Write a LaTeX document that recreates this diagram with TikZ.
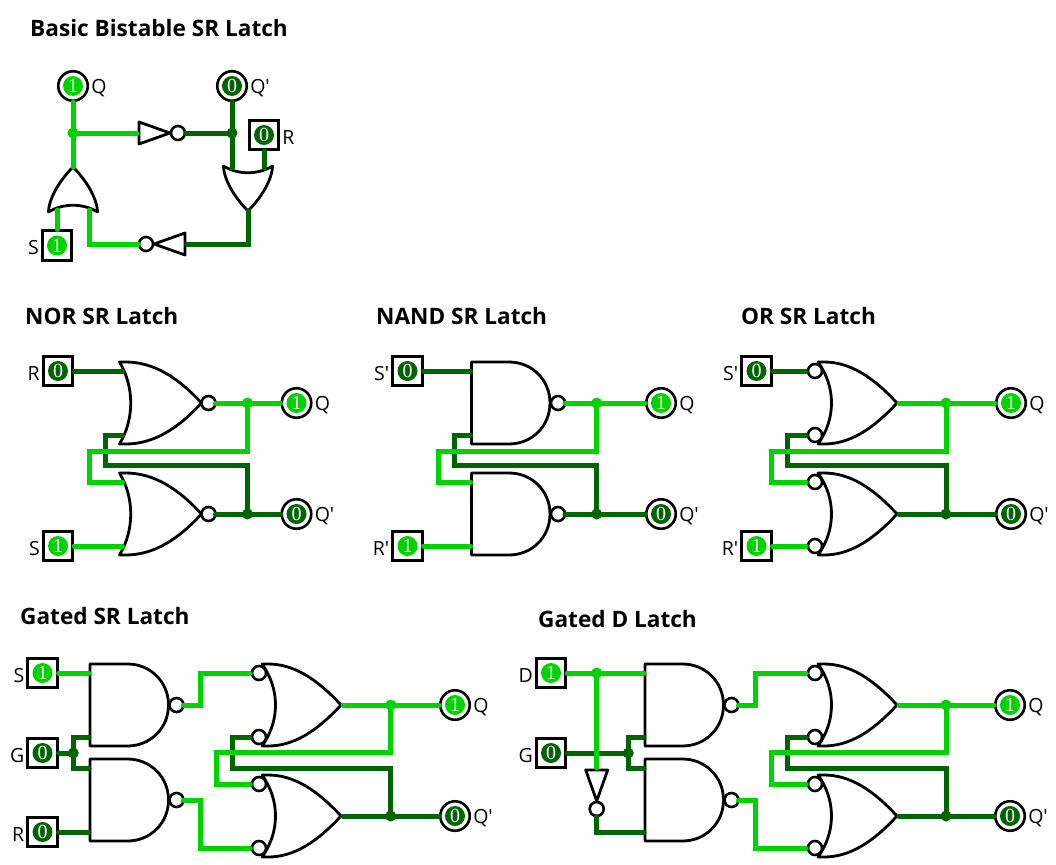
\documentclass[tikz,border=0pt]{standalone}
\usepackage{fontspec}
\newfontfamily\sansface{Open Sans}
\newfontfamily\digitface{Liberation Serif}
\definecolor{logichigh}{HTML}{00D200}
\definecolor{logiclow}{HTML}{006400}
\tikzset{
	wirehigh/.style={line width=5pt,draw=logichigh,line cap=round},
	wirelow/.style={line width=5pt,draw=logiclow,line cap=round},
	gateline/.style={line width=2.8pt,draw=black,fill=white,line join=round},
	bubble/.style={line width=2.6pt,draw=black,fill=white},
	jhigh/.style={circle,fill=logichigh,inner sep=0pt,minimum size=11pt},
	jlow/.style={circle,fill=logiclow,inner sep=0pt,minimum size=11pt},
	dothigh/.style={circle,fill=logichigh,text=white,inner sep=0pt,minimum size=20pt,font=\digitface\fontsize{20}{20}\selectfont},
	dotlow/.style={circle,fill=logiclow,text=white,inner sep=0pt,minimum size=20pt,font=\digitface\fontsize{20}{20}\selectfont},
	inpin/.style={rectangle,draw,line width=2.6pt,minimum size=29.5pt,inner sep=0pt},
	outpin/.style={circle,draw,line width=2.6pt,minimum size=29.5pt,inner sep=0pt},
	vhigh/.style={label={[dothigh]center:1}},
	vlow/.style={label={[dotlow]center:0}},
	titletext/.style={anchor=base west,inner sep=0pt,font=\sansface\bfseries\fontsize{22.6}{22.6}\selectfont},
	pinname/.style={inner sep=2pt,yshift=-2.5pt,font=\sansface\fontsize{19.5}{19.5}\selectfont},
	norgate/.pic={
		\draw[gateline] (-82,-41) -- (-76,-41) .. controls (-48,-41) and (-24,-26) .. (0,0)
			.. controls (-24,26) and (-48,41) .. (-76,41) -- (-82,41)
			.. controls (-67,16) and (-67,-16) .. (-82,-41) -- cycle;
		\draw[bubble] (7,0) circle (7pt);
		\coordinate (-in1) at (-79,-32);
		\coordinate (-in2) at (-79,32);
		\coordinate (-out) at (14,0);
	},
	nandgate/.pic={
		\draw[gateline] (-78.5,-41) -- (-41,-41) .. controls (-18,-41) and (0,-23) .. (0,0)
			.. controls (0,23) and (-18,41) .. (-41,41) -- (-78.5,41) -- cycle;
		\draw[bubble] (8,0) circle (7pt);
		\coordinate (-in1) at (-79.5,-32);
		\coordinate (-in2) at (-79.5,32);
		\coordinate (-out) at (15,0);
	},
	orgate/.pic={
		\draw[gateline] (-79,-41) -- (-73,-41) .. controls (-47,-41) and (-24,-26) .. (0,0)
			.. controls (-24,26) and (-47,41) .. (-73,41) -- (-79,41)
			.. controls (-61,16) and (-61,-16) .. (-79,-41) -- cycle;
		\draw[bubble] (-82,-32) circle (7pt);
		\draw[bubble] (-82,32) circle (7pt);
		\coordinate (-in1) at (-91,-32);
		\coordinate (-in2) at (-91,32);
		\coordinate (-out) at (2,0);
	},
	smallor/.pic={
		\draw[gateline] (-45,-24.5) .. controls (-30,-24) and (-12,-12) .. (0,0)
			.. controls (-12,12) and (-30,24) .. (-45,24.5)
			.. controls (-36,10) and (-36,-10) .. (-45,-24.5) -- cycle;
		\coordinate (-in1) at (-43,-16);
		\coordinate (-in2) at (-43,16);
		\coordinate (-out) at (0,0);
	},
	notgate/.pic={
		\draw[gateline] (-31,-11) -- (0,0) -- (-31,11) -- cycle;
		\draw[bubble] (8,0) circle (7pt);
		\coordinate (-in) at (-33,0);
		\coordinate (-out) at (15.5,0);
	}
}
\begin{document}
\begin{tikzpicture}[x=1pt,y=-1pt]
	\useasboundingbox (0,0) rectangle (1056,864);

	\node[titletext] (batitle) at (30,37) {Basic Bistable SR Latch};
	\pic[rotate=90] (baor1) at (73,167) {smallor};
	\pic[rotate=-90] (baor2) at (248,211) {smallor};
	\pic (banot1) at (170,133) {notgate};
	\pic[rotate=180] (banot2) at (154,244) {notgate};
	\node[outpin,vhigh,label={[pinname]right:Q}] (baq) at (73,86) {};
	\node[outpin,vlow,label={[pinname]right:Q'}] (baqn) at (232,86) {};
	\node[inpin,vlow,label={[pinname]right:R}] (bar) at (264,135) {};
	\node[inpin,vhigh,label={[pinname]left:S}] (bas) at (57,245.5) {};
	\node[jhigh] (baj1) at (73,133) {};
	\node[jlow] (baj2) at (232,133) {};
	\draw[wirelow] (banot1-out) -- (baj2.center);
	\draw[wirelow] (baqn.south) -- (baor2-in2);
	\draw[wirelow] (bar.south) -- (baor2-in1);
	\draw[wirelow] (baor2-out) |- (banot2-in);
	\draw[wirehigh] (baq.south) -- (baor1-out);
	\draw[wirehigh] (baj1.center) -- (banot1-in);
	\draw[wirehigh] (bas.north) -- (baor1-in1);
	\draw[wirehigh] (banot2-out) -| (baor1-in2);

	\node[titletext] (nrtitle) at (25,324) {NOR SR Latch};
	\pic (nrg1) at (201.5,403) {norgate};
	\pic (nrg2) at (201.5,514) {norgate};
	\node[inpin,vlow,label={[pinname]left:R}] (nrr) at (58,371) {};
	\node[inpin,vhigh,label={[pinname]left:S}] (nrs) at (58,546) {};
	\node[outpin,vhigh,label={[pinname]right:Q}] (nrq) at (296.5,403) {};
	\node[outpin,vlow,label={[pinname]right:Q'}] (nrqn) at (296.5,514) {};
	\node[jhigh] (nrj1) at (247.5,403) {};
	\node[jlow] (nrj2) at (247.5,514) {};
	\coordinate (nrfb1) at (89,451.7);
	\coordinate (nrfb2) at (105,465.7);
	\draw[wirelow] (nrr.east) -- (nrg1-in1);
	\draw[wirelow] (nrg2-out) -- (nrqn.west);
	\draw[wirelow] (nrj2.center) |- (nrfb2) |- (nrg1-in2);
	\draw[wirehigh] (nrs.east) -- (nrg2-in2);
	\draw[wirehigh] (nrg1-out) -- (nrq.west);
	\draw[wirehigh] (nrj1.center) |- (nrfb1) |- (nrg2-in1);

	\node[titletext] (ndtitle) at (376,324) {NAND SR Latch};
	\pic (ndg1) at (550,403) {nandgate};
	\pic (ndg2) at (550,514) {nandgate};
	\node[inpin,vlow,label={[pinname]left:S'}] (nds) at (407.5,371) {};
	\node[inpin,vhigh,label={[pinname]left:R'}] (ndr) at (407.5,546) {};
	\node[outpin,vhigh,label={[pinname]right:Q}] (ndq) at (661,403) {};
	\node[outpin,vlow,label={[pinname]right:Q'}] (ndqn) at (661,514) {};
	\node[jhigh] (ndj1) at (596.7,403) {};
	\node[jlow] (ndj2) at (596.7,514) {};
	\coordinate (ndfb1) at (438.3,451.7);
	\coordinate (ndfb2) at (454.3,465.7);
	\draw[wirelow] (nds.east) -- (ndg1-in1);
	\draw[wirelow] (ndg2-out) -- (ndqn.west);
	\draw[wirelow] (ndj2.center) |- (ndfb2) |- (ndg1-in2);
	\draw[wirehigh] (ndr.east) -- (ndg2-in2);
	\draw[wirehigh] (ndg1-out) -- (ndq.west);
	\draw[wirehigh] (ndj1.center) |- (ndfb1) |- (ndg2-in1);

	\node[titletext] (ortitle) at (741,324) {OR SR Latch};
	\pic (org1) at (897,403) {orgate};
	\pic (org2) at (897,514) {orgate};
	\node[inpin,vlow,label={[pinname]left:S'}] (ors) at (756.5,371) {};
	\node[inpin,vhigh,label={[pinname]left:R'}] (orr) at (756.5,546) {};
	\node[outpin,vhigh,label={[pinname]right:Q}] (orq) at (1011,403) {};
	\node[outpin,vlow,label={[pinname]right:Q'}] (orqn) at (1011,514) {};
	\node[jhigh] (orj1) at (946,403) {};
	\node[jlow] (orj2) at (946,514) {};
	\coordinate (orfb1) at (771,451.7);
	\coordinate (orfb2) at (787.7,465.7);
	\draw[wirelow] (ors.east) -- (org1-in1);
	\draw[wirelow] (org2-out) -- (orqn.west);
	\draw[wirelow] (orj2.center) |- (orfb2) |- (org1-in2);
	\draw[wirehigh] (orr.east) -- (org2-in2);
	\draw[wirehigh] (org1-out) -- (orq.west);
	\draw[wirehigh] (orj1.center) |- (orfb1) |- (org2-in1);

	\node[titletext] (gstitle) at (20,624) {Gated SR Latch};
	\pic (gsa1) at (168.5,705) {nandgate};
	\pic (gsa2) at (168.5,800) {nandgate};
	\pic (gsg1) at (341,705) {orgate};
	\pic (gsg2) at (341,816) {orgate};
	\node[inpin,vhigh,label={[pinname]left:S}] (gss) at (42.5,673) {};
	\node[inpin,vlow,label={[pinname]left:G}] (gsc) at (42.5,753) {};
	\node[inpin,vlow,label={[pinname]left:R}] (gsr) at (42.5,832) {};
	\node[outpin,vhigh,label={[pinname]right:Q}] (gsq) at (455,705) {};
	\node[outpin,vlow,label={[pinname]right:Q'}] (gsqn) at (455,816) {};
	\node[jlow] (gsj0) at (73.3,753) {};
	\node[jhigh] (gsj1) at (390.7,705) {};
	\node[jlow] (gsj2) at (390.7,816) {};
	\coordinate (gsfb1) at (216.7,752.7);
	\coordinate (gsfb2) at (232.3,768.3);
	\coordinate (gsbr1) at (200,673);
	\coordinate (gsbr2) at (200,848);
	\draw[wirelow] (gsc.east) -- (gsj0.center);
	\draw[wirelow] (gsj0.center) |- (gsa1-in2);
	\draw[wirelow] (gsj0.center) |- (gsa2-in1);
	\draw[wirelow] (gsr.east) -- (gsa2-in2);
	\draw[wirelow] (gsg2-out) -- (gsqn.west);
	\draw[wirelow] (gsj2.center) |- (gsfb2) |- (gsg1-in2);
	\draw[wirehigh] (gss.east) -- (gsa1-in1);
	\draw[wirehigh] (gsa1-out) -| (gsbr1) -- (gsg1-in1);
	\draw[wirehigh] (gsa2-out) -| (gsbr2) -- (gsg2-in2);
	\draw[wirehigh] (gsg1-out) -- (gsq.west);
	\draw[wirehigh] (gsj1.center) |- (gsfb1) |- (gsg2-in1);

	\node[titletext] (gdtitle) at (538,627) {Gated D Latch};
	\pic (gda1) at (723.5,705) {nandgate};
	\pic (gda2) at (723.5,800) {nandgate};
	\pic (gdg1) at (897,705) {orgate};
	\pic (gdg2) at (897,816) {orgate};
	\pic[rotate=-90] (gdnot) at (596.7,801) {notgate};
	\node[inpin,vhigh,label={[pinname]left:D}] (gdd) at (551,673) {};
	\node[inpin,vlow,label={[pinname]left:G}] (gdc) at (551,753) {};
	\node[outpin,vhigh,label={[pinname]right:Q}] (gdq) at (1010,705) {};
	\node[outpin,vlow,label={[pinname]right:Q'}] (gdqn) at (1010,816) {};
	\node[jhigh] (gdj3) at (596.7,673) {};
	\node[jlow] (gdj0) at (628.3,753) {};
	\node[jhigh] (gdj1) at (946,705) {};
	\node[jlow] (gdj2) at (946,816) {};
	\coordinate (gdfb1) at (771,752.7);
	\coordinate (gdfb2) at (787.3,768.3);
	\coordinate (gdbr1) at (755.7,673);
	\coordinate (gdbr2) at (755.7,848);
	\draw[wirelow] (gdc.east) -- (gdj0.center);
	\draw[wirelow] (gdj0.center) |- (gda1-in2);
	\draw[wirelow] (gdj0.center) |- (gda2-in1);
	\draw[wirelow] (gdnot-out) |- (gda2-in2);
	\draw[wirelow] (gdg2-out) -- (gdqn.west);
	\draw[wirelow] (gdj2.center) |- (gdfb2) |- (gdg1-in2);
	\draw[wirehigh] (gdd.east) -- (gda1-in1);
	\draw[wirehigh] (gdj3.center) -- (gdnot-in);
	\draw[wirehigh] (gda1-out) -| (gdbr1) -- (gdg1-in1);
	\draw[wirehigh] (gda2-out) -| (gdbr2) -- (gdg2-in2);
	\draw[wirehigh] (gdg1-out) -- (gdq.west);
	\draw[wirehigh] (gdj1.center) |- (gdfb1) |- (gdg2-in1);
\end{tikzpicture}
\end{document}
